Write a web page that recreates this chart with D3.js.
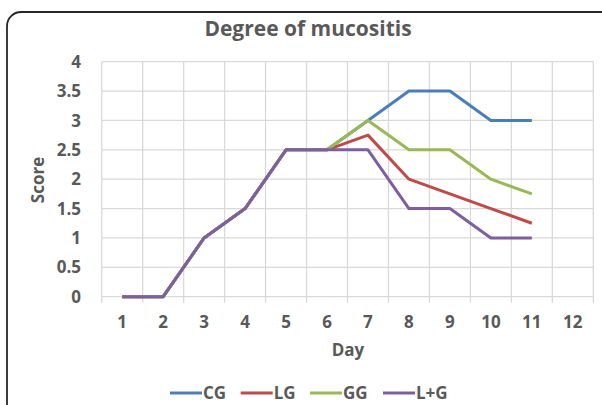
<!DOCTYPE html>
<html><head><meta charset="utf-8">
<script src="https://cdn.jsdelivr.net/npm/d3@7"></script>
<style>body{margin:0;background:#fff}svg{display:block}text{font-family:"Open Sans",sans-serif;font-weight:700;fill:#595959}</style>
</head><body>
<script>
const days = ["1","2","3","4","5","6","7","8","9","10","11","12"];
const seriesNames = ["CG","LG","GG","L+G"];
const seriesColors = ["#4a7ebb","#be4b48","#98b954","#7d5fa0"];
const CG  = [0,0,1,1.5,2.5,2.5,3,3.5,3.5,3,3];
const LG  = [0,0,1,1.5,2.5,2.5,2.75,2,1.75,1.5,1.25];
const GG  = [0,0,1,1.5,2.5,2.5,3,2.5,2.5,2,1.75];
const LpG = [0,0,1,1.5,2.5,2.5,2.5,1.5,1.5,1,1];
const yTicks = [0,0.5,1,1.5,2,2.5,3,3.5,4];
const seriesData = [CG,LG,GG,LpG];

const W=602,H=405;
const svg=d3.select("body").append("svg").attr("width",W).attr("height",H);
svg.append("rect").attr("x",7).attr("y",12).attr("width",610).attr("height",420)
  .attr("rx",14).attr("fill","#fff").attr("stroke","#262626").attr("stroke-width",1.8);

const x=d3.scaleBand().domain(days).range([101.7,593.3]);
const y=d3.scaleLinear().domain([0,4]).range([296.7,61.7]);
const g=svg.append("g");

g.selectAll("line.h").data(yTicks).join("line")
  .attr("x1",x.range()[0]).attr("x2",x.range()[1])
  .attr("y1",d=>y(d)).attr("y2",d=>y(d))
  .attr("stroke","#d9d9d9").attr("stroke-width",1.3);
const edges=days.map(d=>x(d)).concat([x.range()[1]]);
g.selectAll("line.v").data(edges).join("line")
  .attr("x1",d=>d).attr("x2",d=>d).attr("y1",y(4)).attr("y2",y(0)+6)
  .attr("stroke","#d9d9d9").attr("stroke-width",1.3);

g.selectAll("text.yt").data(yTicks).join("text")
  .attr("x",81).attr("y",d=>y(d)).attr("dy","0.36em").attr("text-anchor","end")
  .attr("font-size",17).text(d=>d);
g.selectAll("text.xt").data(days).join("text")
  .attr("x",d=>x(d)+x.bandwidth()/2).attr("y",322).attr("dy","0.36em").attr("text-anchor","middle")
  .attr("font-size",17).text(d=>d);

const line=d3.line().x((d,i)=>x(days[i])+x.bandwidth()/2).y(d=>y(d));
seriesData.forEach((s,k)=>{
  svg.append("path").datum(s).attr("d",line).attr("fill","none")
    .attr("stroke",seriesColors[k]).attr("stroke-width",3).attr("stroke-linejoin","round");
});

svg.append("text").attr("x",308).attr("y",28).attr("dy","0.36em").attr("text-anchor","middle")
  .attr("font-size",21).text("Degree of mucositis");
svg.append("text").attr("x",348).attr("y",350).attr("dy","0.36em").attr("text-anchor","middle")
  .attr("font-size",17).text("Day");
svg.append("text").attr("transform","translate(38,180) rotate(-90)").attr("dy","0.36em")
  .attr("text-anchor","middle").attr("font-size",17).text("Score");

const legX=[170,240.7,310,383];
seriesNames.forEach((n,k)=>{
  svg.append("line").attr("x1",legX[k]).attr("x2",legX[k]+32).attr("y1",393).attr("y2",393)
    .attr("stroke",seriesColors[k]).attr("stroke-width",3);
  svg.append("text").attr("x",legX[k]+33).attr("y",393).attr("dy","0.36em")
    .attr("font-size",17).text(n);
});
</script>
</body></html>
